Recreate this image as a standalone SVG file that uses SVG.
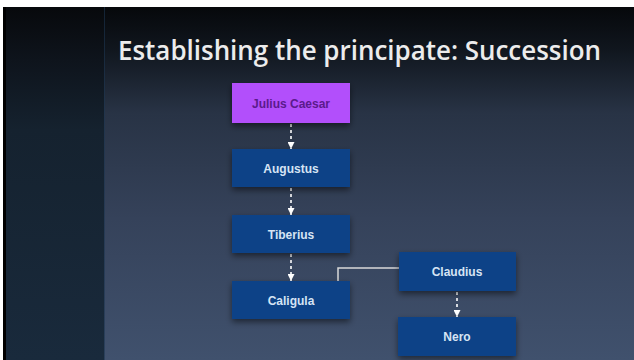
<svg xmlns="http://www.w3.org/2000/svg" width="634" height="360" viewBox="0 0 634 360">
  <defs>
    <linearGradient id="bg" x1="0" y1="0" x2="0" y2="1">
      <stop offset="0" stop-color="#06080b"/>
      <stop offset="0.12" stop-color="#10161e"/>
      <stop offset="0.3" stop-color="#283345"/>
      <stop offset="0.6" stop-color="#35425a"/>
      <stop offset="1" stop-color="#40516d"/>
    </linearGradient>
    <linearGradient id="side" x1="0" y1="0" x2="0" y2="1">
      <stop offset="0" stop-color="#07090c"/>
      <stop offset="0.15" stop-color="#0e141c"/>
      <stop offset="0.35" stop-color="#15222f"/>
      <stop offset="1" stop-color="#192a3c"/>
    </linearGradient>
    <filter id="sh" x="-20%" y="-30%" width="140%" height="170%">
      <feDropShadow dx="0" dy="3" stdDeviation="3" flood-color="#000" flood-opacity="0.5"/>
    </filter>
    <marker id="ah" viewBox="0 0 10 10" refX="10" refY="5" markerWidth="7" markerHeight="7" markerUnits="userSpaceOnUse" orient="auto">
      <path d="M0,0 L10,5 L0,10 Z" fill="#ffffff"/>
    </marker>
    <style>
      .title { font-family: "Open Sans", "Liberation Sans", sans-serif; font-size: 27px; font-weight: 600; fill: #ececec; }
      .blue { fill: #0b4387; }
      .purple { fill: #b24ffb; }
      .lbl { font-family: "Liberation Sans", Arial, sans-serif; font-size: 12px; font-weight: bold; text-anchor: middle; }
      .lw { fill: #d6e4f4; }
      .lp { fill: #5b1a8c; }
      .dash { stroke: #ffffff; stroke-width: 1.6; stroke-dasharray: 3 3; fill: none; }
      .solid { stroke: #d9d9d9; stroke-width: 1.5; fill: none; }
    </style>
  </defs>

  <rect x="0" y="0" width="634" height="360" fill="#ffffff"/>
  <rect x="3" y="7" width="631" height="353" fill="url(#bg)"/>
  <rect x="3" y="7" width="3" height="353" fill="#000000"/>
  <rect x="6" y="7" width="98" height="353" fill="url(#side)"/>
  <rect x="104" y="7" width="1" height="353" fill="#1c3550" opacity="0.6"/>

  <text class="title" x="118" y="60" textLength="483" lengthAdjust="spacingAndGlyphs">Establishing the principate: Succession</text>

  <g id="connectors">
    <line class="dash" x1="291" y1="124" x2="291" y2="149" marker-end="url(#ah)"/>
    <line class="dash" x1="291" y1="188" x2="291" y2="215" marker-end="url(#ah)"/>
    <line class="dash" x1="291" y1="254" x2="291" y2="281" marker-end="url(#ah)"/>
    <line class="dash" x1="457" y1="292" x2="457" y2="317" marker-end="url(#ah)"/>
    <polyline class="solid" points="338,281 338,268 399,268"/>
  </g>

  <g id="julius-caesar">
    <rect class="purple" x="232" y="83" width="118" height="40" filter="url(#sh)"/>
    <text class="lbl lp" x="291" y="107.5">Julius Caesar</text>
  </g>
  <g id="augustus">
    <rect class="blue" x="232" y="149" width="118" height="38" filter="url(#sh)"/>
    <text class="lbl lw" x="291" y="172.5">Augustus</text>
  </g>
  <g id="tiberius">
    <rect class="blue" x="232" y="215" width="118" height="38" filter="url(#sh)"/>
    <text class="lbl lw" x="291" y="238.5">Tiberius</text>
  </g>
  <g id="caligula">
    <rect class="blue" x="232" y="281" width="118" height="38" filter="url(#sh)"/>
    <text class="lbl lw" x="291" y="304.5">Caligula</text>
  </g>
  <g id="claudius">
    <rect class="blue" x="399" y="252" width="117" height="39" filter="url(#sh)"/>
    <text class="lbl lw" x="457" y="276">Claudius</text>
  </g>
  <g id="nero">
    <rect class="blue" x="398" y="317" width="118" height="39" filter="url(#sh)"/>
    <text class="lbl lw" x="457" y="341">Nero</text>
  </g>
</svg>
